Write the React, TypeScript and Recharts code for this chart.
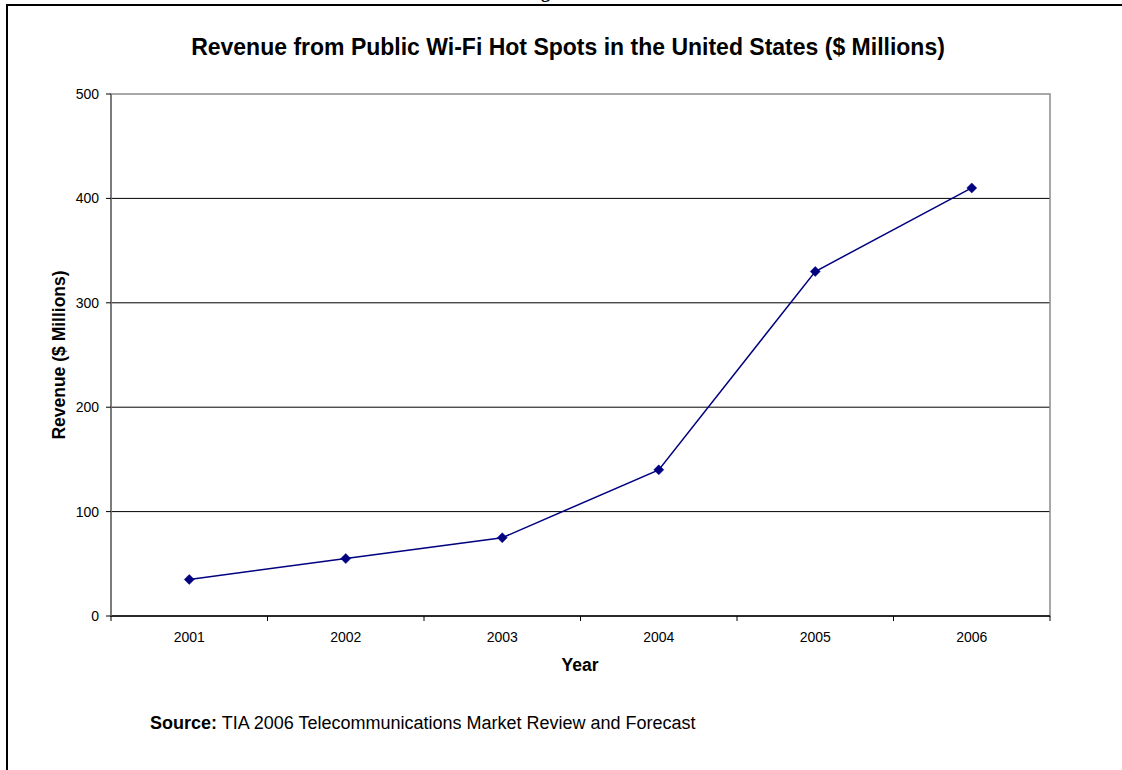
import React from 'react';
import {
  LineChart,
  Line,
  XAxis,
  YAxis,
  CartesianGrid,
  ReferenceArea,
} from 'recharts';

const years = ['2001', '2002', '2003', '2004', '2005', '2006'];
const revenue = [35, 55, 75, 140, 330, 410];
const yTicks = [0, 100, 200, 300, 400, 500];
const gridValues = [100, 200, 300, 400];

const titleText = 'Revenue from Public Wi-Fi Hot Spots in the United States ($ Millions)';
const xLabelText = 'Year';
const yLabelText = 'Revenue ($ Millions)';
const sourceLabel = 'Source:';
const sourceText = ' TIA 2006 Telecommunications Market Review and Forecast';

const data = years.map((y, i) => ({ year: y, revenue: revenue[i] }));

const FONT = "Arial, 'Liberation Sans', Helvetica, sans-serif";
const W = 1122;
const H = 770;
const margin = { top: 94, right: 72, bottom: 124, left: 51 };
const Y_AXIS_W = 60;
const X_AXIS_H = 30;
const plotLeft = margin.left + Y_AXIS_W;
const plotWidth = W - plotLeft - margin.right;
const halfBand = plotWidth / years.length / 2;

const Diamond = (props: any) => {
  const { cx, cy } = props;
  if (cx == null || cy == null) return null;
  const s = 5;
  return (
    <polygon
      points={`${cx},${cy - s} ${cx + s},${cy} ${cx},${cy + s} ${cx - s},${cy}`}
      fill="#000080"
      stroke="#000080"
      strokeWidth={0.5}
    />
  );
};

const XTick = (props: any) => {
  const { x, y, payload, index } = props;
  const off = payload && typeof payload.offset === 'number' && payload.offset > 0 ? payload.offset : halfBand;
  const axisY = y - 8;
  return (
    <g>
      <line x1={x - off} y1={axisY} x2={x - off} y2={axisY + 5} stroke="#000" strokeWidth={1} />
      {index === years.length - 1 && (
        <line x1={x + off} y1={axisY} x2={x + off} y2={axisY + 5} stroke="#000" strokeWidth={1} />
      )}
      <text x={x} y={axisY + 21} textAnchor="middle" dominantBaseline="central" fontSize={14} fontFamily={FONT} fill="#000">
        {payload.value}
      </text>
    </g>
  );
};

export default function App() {
  return (
    <div
      style={{
        position: 'absolute',
        left: 0,
        top: 0,
        width: W,
        height: H,
        overflow: 'hidden',
        background: '#fff',
        fontFamily: FONT,
      }}
    >
      <div
        style={{
          position: 'absolute',
          left: 541,
          top: -17,
          fontFamily: "'Liberation Serif', 'Times New Roman', serif",
          fontWeight: 'bold',
          fontSize: 18,
          lineHeight: '18px',
          color: '#000',
        }}
      >
        g
      </div>
      <div
        style={{
          position: 'absolute',
          left: 6,
          top: 4,
          width: 1300,
          height: 900,
          borderTop: '2px solid #000',
          borderLeft: '2px solid #000',
        }}
      />
      <div style={{ position: 'absolute', left: 0, top: 0 }}>
        <LineChart width={W} height={H} data={data} margin={margin}>
          <ReferenceArea y1={0} y2={500} fill="none" stroke="#8c8c8c" strokeWidth={1.5} ifOverflow="visible" />
          <CartesianGrid horizontal vertical={false} horizontalValues={gridValues} stroke="#000" strokeWidth={1} />
          <XAxis
            dataKey="year"
            type="category"
            scale="band"
            height={X_AXIS_H}
            axisLine={{ stroke: '#000', strokeWidth: 1.5 }}
            tickLine={false}
            tick={<XTick />}
            interval={0}
          />
          <YAxis
            type="number"
            domain={[0, 500]}
            ticks={yTicks}
            width={Y_AXIS_W}
            axisLine={{ stroke: '#6e6e6e', strokeWidth: 1.5 }}
            tickLine={{ stroke: '#000' }}
            tickSize={5}
            tickMargin={7}
            tick={{ fontSize: 14, fontFamily: FONT, fill: '#000' }}
          />
          <Line
            type="linear"
            dataKey="revenue"
            stroke="#000080"
            strokeWidth={1.5}
            dot={<Diamond />}
            activeDot={false}
            isAnimationActive={false}
          />
        </LineChart>
      </div>
      <div
        style={{
          position: 'absolute',
          left: 568,
          top: 47,
          transform: 'translate(-50%, -50%)',
          whiteSpace: 'nowrap',
          fontSize: 23,
          lineHeight: '23px',
          fontWeight: 'bold',
          color: '#000',
        }}
      >
        {titleText}
      </div>
      <div
        style={{
          position: 'absolute',
          left: 580,
          top: 665,
          transform: 'translate(-50%, -50%)',
          whiteSpace: 'nowrap',
          fontSize: 17.5,
          lineHeight: '18px',
          fontWeight: 'bold',
          color: '#000',
        }}
      >
        {xLabelText}
      </div>
      <div
        style={{
          position: 'absolute',
          left: 59,
          top: 355,
          transform: 'translate(-50%, -50%) rotate(-90deg)',
          whiteSpace: 'nowrap',
          fontSize: 17.5,
          lineHeight: '18px',
          fontWeight: 'bold',
          color: '#000',
        }}
      >
        {yLabelText}
      </div>
      <div
        style={{
          position: 'absolute',
          left: 150,
          top: 714,
          whiteSpace: 'pre',
          fontSize: 18,
          lineHeight: '18px',
          color: '#000',
        }}
      >
        <b>{sourceLabel}</b>
        {sourceText}
      </div>
    </div>
  );
}
